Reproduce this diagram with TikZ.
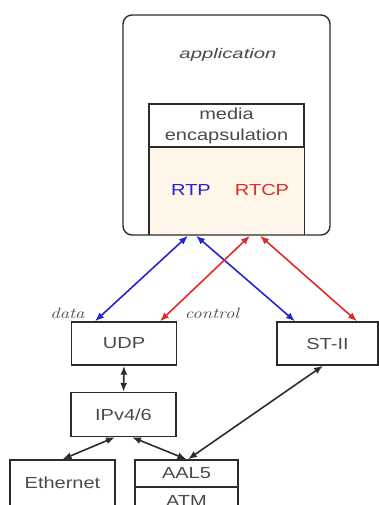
\documentclass[tikz,border=0pt]{standalone}
\usepackage{fontspec}
\usepackage{graphicx}
\usetikzlibrary{arrows.meta}
% wide sans faces for the box labels
\newfontfamily\labelsans{Liberation Sans}[FakeStretch=1.25]
\newfontfamily\appsans{Liberation Sans}[FakeStretch=1.45]
\definecolor{edgegray}{HTML}{2C2C2C}
\definecolor{textgray}{HTML}{4A4A4A}
\definecolor{rtpblue}{HTML}{2424D4}
\definecolor{rtcpred}{HTML}{E22A2A}
\definecolor{cream}{HTML}{FDF6E9}
\begin{document}
\begin{tikzpicture}[x=1pt,y=-1pt,
  layer/.style={draw=edgegray,line width=1.4pt,inner sep=0pt,text=textgray,
    font=\labelsans\fontsize{16}{19}\selectfont},
  flow/.style={line width=1.6pt,{Latex[length=9pt,width=7pt]}-{Latex[length=9pt,width=7pt]}},
  tag/.style={text=textgray,inner sep=0pt,font=\fontsize{15}{18}\selectfont\itshape}
]
\useasboundingbox (0,0) rectangle (379,505);
\clip (0,0) rectangle (379,505);

% application frame and the RTP/RTCP block inside it
\node[draw=none,fill=cream,minimum width=155pt,minimum height=88pt,inner sep=0pt]
  (rtpbox) at (226.5,191) {};
\node[text=rtpblue,inner sep=0pt,font=\labelsans\fontsize{16}{19}\selectfont] (rtp) at (191,190) {RTP};
\node[text=rtcpred,inner sep=0pt,font=\labelsans\fontsize{16}{19}\selectfont] (rtcp) at (262,190) {RTCP};
\draw[edgegray,line width=1.4pt] (rtpbox.north west) -- (rtpbox.south west)
  (rtpbox.north east) -- (rtpbox.south east);
\node[layer,minimum width=155pt,minimum height=43pt,align=center,
  font=\labelsans\fontsize{16}{21}\selectfont] (media) at (226.5,125.5) {media\\encapsulation};
\node[draw=edgegray,line width=1.4pt,rounded corners=9pt,minimum width=207pt,
  minimum height=220pt,inner sep=0pt] (app) at (226.5,125) {};
\node[text=textgray,inner sep=0pt,font=\appsans\itshape\fontsize{14}{17}\selectfont]
  (apptitle) at (228,55) {application};

% transport layer
\node[layer,minimum width=105pt,minimum height=43pt] (udp) at (124,343.5) {UDP};
\node[layer,minimum width=101pt,minimum height=43pt] (st) at (327.5,343.5) {ST-II};
\node[layer,minimum width=105pt,minimum height=44pt] (ip) at (123.5,414.5) {IPv4/6};

% link layer
\node[layer,minimum width=105pt,minimum height=46pt] (eth) at (62.5,483) {Ethernet};
\node[layer,minimum width=103pt,minimum height=27pt] (aal) at (186.5,473.5) {AAL5};
\node[layer,minimum width=103pt,minimum height=27pt] (atm) at (186.5,500.5) {ATM};

% data and control flows
\draw[flow,rtpblue] ([xshift=-38.5pt]app.south) -- ([xshift=-29pt]udp.north);
\draw[flow,rtpblue] ([xshift=-30.5pt]app.south) -- ([xshift=-32.5pt]st.north);
\draw[flow,rtcpred] ([xshift=23.5pt]app.south) -- ([xshift=36pt]udp.north);
\draw[flow,rtcpred] ([xshift=33.5pt]app.south) -- ([xshift=29.5pt]st.north);

\node[tag] (datalbl) at (67.5,313) {\scalebox{1.25}[1]{data}};
\node[tag] (ctrllbl) at (212,313) {\scalebox{1.25}[1]{control}};

% lower protocol stack
\draw[flow,edgegray] (udp.south) -- (ip.north);
\draw[flow,edgegray] ([xshift=-8.5pt]ip.south) -- (eth.north);
\draw[flow,edgegray] ([xshift=8.5pt]ip.south) -- (aal.north);
\draw[flow,edgegray] ([xshift=-4.5pt]st.south) -- ([xshift=1.5pt]aal.north);
\end{tikzpicture}
\end{document}
